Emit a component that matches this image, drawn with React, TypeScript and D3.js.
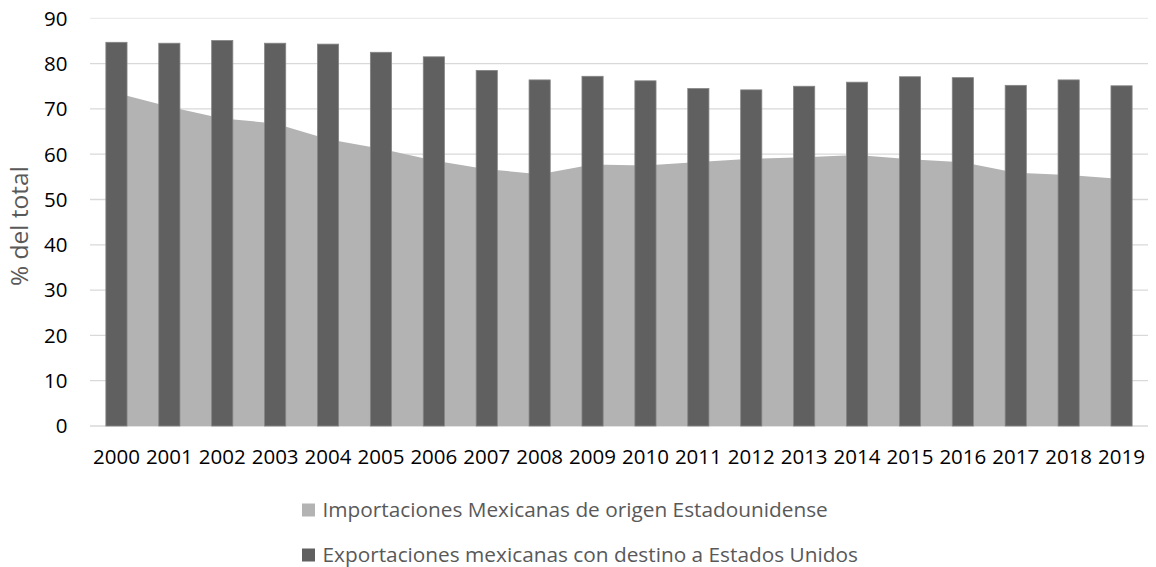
import React from "react";
import * as d3 from "d3";

// Años del eje de categorías
const years = [
  "2000", "2001", "2002", "2003", "2004", "2005", "2006", "2007", "2008", "2009",
  "2010", "2011", "2012", "2013", "2014", "2015", "2016", "2017", "2018", "2019",
];

// Importaciones mexicanas de origen estadounidense (% del total) — área
const importaciones = [
  73.5, 70.5, 67.9, 66.8, 63.3, 61.2, 58.6, 56.7, 55.6, 57.7,
  57.5, 58.3, 59.0, 59.3, 59.8, 58.9, 58.2, 55.9, 55.4, 54.5,
];

// Exportaciones mexicanas con destino a EE. UU. (% del total) — barras
const exportaciones = [
  84.7, 84.5, 85.1, 84.5, 84.3, 82.5, 81.5, 78.5, 76.4, 77.2,
  76.2, 74.5, 74.2, 75.0, 75.9, 77.1, 76.9, 75.2, 76.4, 75.1,
];

const yTicks = [0, 10, 20, 30, 40, 50, 60, 70, 80, 90];

const legendLabels = [
  "Importaciones Mexicanas de origen Estadounidense",
  "Exportaciones mexicanas con destino a Estados Unidos",
];

const W = 1156;
const H = 567;
const FONT = "'Open Sans', sans-serif";
const AREA_COLOR = "#b3b3b3";
const BAR_COLOR = "#606060";

export default function App() {
  const left = 90;
  const right = 1148;
  const top = 18.3;
  const bottom = 426;

  const x = d3
    .scaleBand<string>()
    .domain(years)
    .range([left, right])
    .paddingInner(0.6)
    .paddingOuter(0.3);

  const y = d3.scaleLinear().domain([0, 90]).range([bottom, top]);

  const cx = (yr: string) => (x(yr) ?? 0) + x.bandwidth() / 2;

  const areaGen = d3
    .area<number>()
    .x((_, i) => cx(years[i]))
    .y0(y(0))
    .y1((d) => y(d));

  return (
    <svg
      width={W}
      height={H}
      style={{ position: "absolute", left: 0, top: 0, background: "#fff" }}
      fontFamily={FONT}
    >
      {/* líneas de cuadrícula */}
      {yTicks.map((t) => (
        <line
          key={`g${t}`}
          x1={left}
          x2={right}
          y1={y(t)}
          y2={y(t)}
          stroke={t === 90 ? "#ebebeb" : "#d9d9d9"}
          strokeWidth={1.3}
        />
      ))}

      {/* área de importaciones */}
      <path d={areaGen(importaciones) ?? ""} fill={AREA_COLOR} />

      {/* barras de exportaciones */}
      {exportaciones.map((v, i) => (
        <rect
          key={`b${i}`}
          x={x(years[i])}
          y={y(v)}
          width={x.bandwidth()}
          height={y(0) - y(v)}
          fill={BAR_COLOR}
          stroke="#858585"
          strokeWidth={0.8}
        />
      ))}

      {/* etiquetas del eje Y */}
      {yTicks.map((t) => (
        <text
          key={`yt${t}`}
          x={67.5}
          y={y(t)}
          dy="0.36em"
          textAnchor="end"
          fontSize={20.5}
          fill="#000"
        >
          {t}
        </text>
      ))}

      {/* etiquetas del eje X */}
      {years.map((yr) => (
        <text
          key={`xt${yr}`}
          x={cx(yr)}
          y={456.7}
          dy="0.36em"
          textAnchor="middle"
          fontSize={20.5}
          fill="#000"
        >
          {yr}
        </text>
      ))}

      {/* título del eje Y */}
      <text
        transform={`translate(19,${(top + bottom) / 2 + 4}) rotate(-90)`}
        textAnchor="middle"
        dy="0.35em"
        fontSize={24.5}
        fill="#595959"
      >
        % del total
      </text>

      {/* leyenda */}
      {legendLabels.map((label, i) => {
        const ly = 510 + i * 45;
        return (
          <g key={`l${i}`}>
            <rect
              x={302}
              y={ly - 6.5}
              width={13}
              height={13}
              fill={i === 0 ? AREA_COLOR : BAR_COLOR}
            />
            <text x={322.5} y={ly} dy="0.35em" fontSize={20.8} fill="#595959">
              {label}
            </text>
          </g>
        );
      })}
    </svg>
  );
}
